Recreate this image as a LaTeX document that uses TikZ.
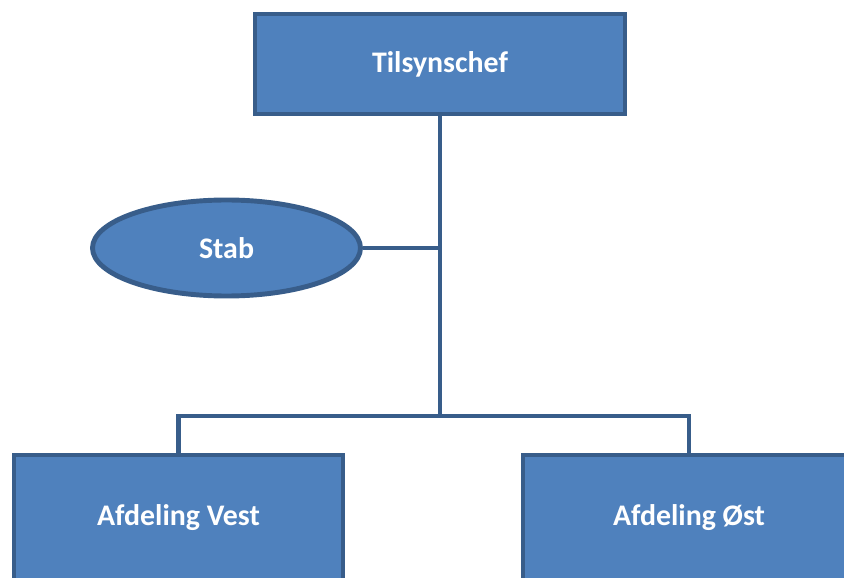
\documentclass[tikz,border=0pt]{standalone}
\usepackage{fontspec}
\setmainfont{Carlito}
\usetikzlibrary{shapes.geometric}
\definecolor{r79g129b189}{rgb}{0.309804,0.505882,0.741176}
\definecolor{r56g93b138}{rgb}{0.219608,0.364706,0.541176}
\tikzset{
  orgbox/.style={draw=r56g93b138, fill=r79g129b189, line width=2.8pt, inner sep=0pt,
                 text=white, font=\fontsize{17}{20}\selectfont\bfseries},
  orglink/.style={draw=r56g93b138, line width=2.8pt}
}
\begin{document}
\begin{tikzpicture}
                        \useasboundingbox (0.000000,0.000000) rectangle (16.880000,11.540000);
                        \clip (0.000000,0.000000) rectangle (16.880000,11.540000);
                        {

                        % Drawing box Tilsynschef
                        \node [orgbox, minimum width=7.400000cm, minimum height=2.000000cm] (chef) at (8.800000,10.260000) {Tilsynschef};%

                        % Drawing ellipse Stab
                        \node [orgbox, ellipse, minimum width=5.360000cm, minimum height=1.920000cm] (stab) at (4.530000,6.580000) {Stab};%

                        % Drawing boxes Afdeling Vest, Afdeling Øst
                        \node [orgbox, minimum width=6.580000cm, minimum height=2.520000cm] (vest) at (3.570000,1.180000) {Afdeling Vest};%
                        \node [orgbox, minimum width=6.640000cm, minimum height=2.520000cm] (oest) at (13.780000,1.180000) {Afdeling Øst};%

                        % Marking split point
                        \coordinate (split) at (8.800000,3.220000);%

                        % Drawing lines
                        \draw [orglink] (chef) -- (split);%
                        \draw [orglink] (stab) -- (stab -| chef);%
                        \draw [orglink] (vest) |- (split) -| (oest);%
                        }
                    \end{tikzpicture}
\end{document}
